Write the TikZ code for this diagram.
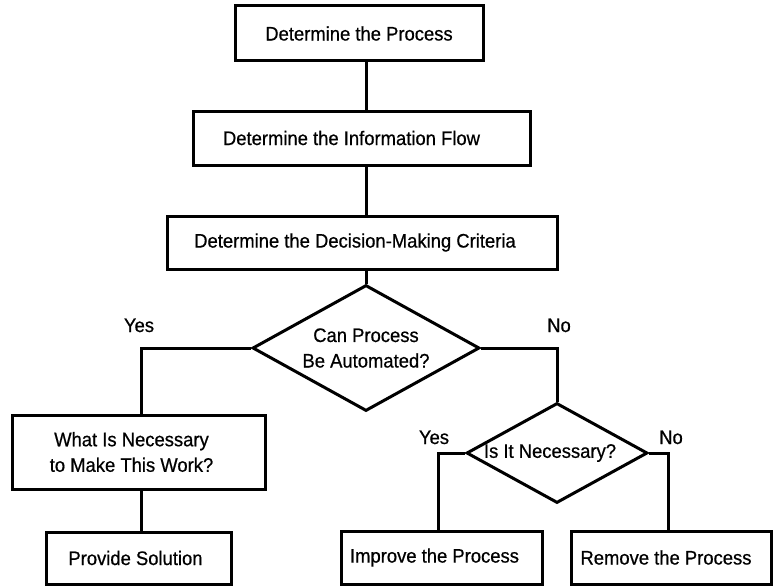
\documentclass[tikz,border=0pt]{standalone}
\usepackage{fontspec}
\setmainfont{Liberation Sans}[FakeStretch=0.94, FakeBold=0.6]
\usetikzlibrary{shapes.geometric}
\begin{document}
\begin{tikzpicture}[x=1pt,y=-1pt,
  every node/.style={font=\fontsize{19.6}{25.5}\selectfont},
  box/.style={draw, line width=3pt, fill=white, inner sep=0pt, align=center},
  decision/.style={draw, diamond, line width=3pt, fill=white, inner sep=0pt, align=center},
  link/.style={line width=3pt},
  lbl/.style={inner sep=0pt, anchor=base}]
\useasboundingbox (0,0) rectangle (774,586);

% process boxes down the main column
\node[box, minimum width=248pt, minimum height=55pt] (b1) at (359,33.5) {Determine the Process};
\node[box, minimum width=337pt, minimum height=54pt] (b2) at (361.5,138) {Determine the Information Flow\kern20pt};
\node[box, minimum width=390pt, minimum height=53pt] (b3) at (362,242.5) {Determine the Decision-Making Criteria\kern14pt};

% first decision
\node[decision, minimum width=227pt, minimum height=126pt, shape aspect=1.8] (d1) at (366,348) {Can Process\\Be Automated?};

% left branch
\node[box, minimum width=253pt, minimum height=74pt] (b4) at (138.5,452) {What Is Necessary\kern14pt\\to Make This Work?\kern14pt};
\node[box, minimum width=185pt, minimum height=52pt] (b5) at (138.5,558) {Provide Solution\kern6pt};

% right branch
\node[decision, minimum width=181pt, minimum height=100pt, shape aspect=1.81] (d2) at (557,453) {Is It Necessary?\kern14pt};
\node[box, minimum width=201pt, minimum height=53pt] (b6) at (441.5,557.5) {Improve the Process\kern14pt};
\node[box, minimum width=200pt, minimum height=53pt] (b7) at (671,557.5) {Remove the Process\kern10pt};

% connector corners
\coordinate (cy1) at (141,348);
\coordinate (cy2) at (438,453);
\coordinate (cn2) at (668,453);

% connectors
\draw[link] (b1.south -| d1.north) -- (b2.north -| d1.north);
\draw[link] (b2.south -| d1.north) -- (b3.north -| d1.north);
\draw[link] (b3.south -| d1.north) -- (d1.north);
\draw[link] (d1.west) -- (cy1) -- (cy1 |- b4.north);
\draw[link] (b4.south -| cy1) -- (b5.north -| cy1);
\draw[link] (d1.east) -- (d1.east -| d2.north) -- (d2.north);
\draw[link] (d2.west) -- (cy2) -- (cy2 |- b6.north);
\draw[link] (d2.east) -- (cn2) -- (cn2 |- b7.north);

% branch labels
\node[lbl] (y1) at (139,332) {Yes};
\node[lbl] (n1) at (559,332) {No};
\node[lbl] (y2) at (434,444) {Yes};
\node[lbl] (n2) at (671,444) {No};
\end{tikzpicture}
\end{document}
